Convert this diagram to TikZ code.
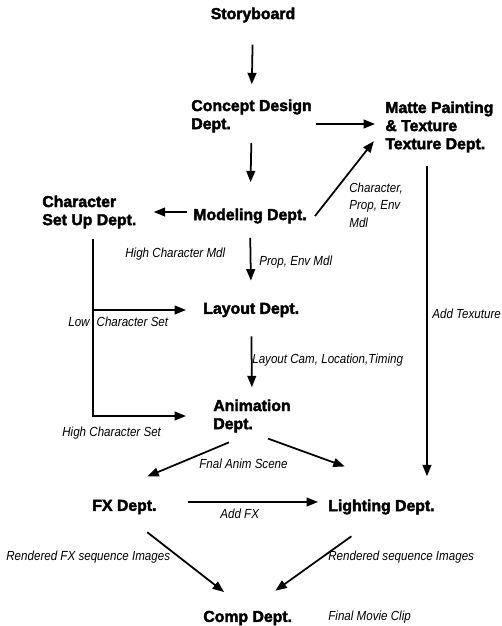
\documentclass[tikz,border=0pt]{standalone}
\usepackage{fontspec}
\setmainfont{Liberation Sans}
\newfontfamily\deptfont{Liberation Sans}[BoldFeatures={FakeBold=2.5}]
\newfontfamily\notefont{Liberation Sans}[FakeStretch=0.88]
\usetikzlibrary{arrows.meta}

\begin{document}
\begin{tikzpicture}[
				x=0.02cm, y=-0.02cm,
				dept/.style={inner sep=0pt, anchor=west, align=left, font=\deptfont\bfseries\fontsize{9}{10.3}\selectfont},
				note/.style={inner sep=0pt, anchor=west, align=left, font=\notefont\itshape\fontsize{7.5}{10}\selectfont},
				arrow/.style={-{Triangle[length=6.5pt,width=5pt]}, line width=1pt}
				]
				
				% Page frame
				\useasboundingbox (0,0) rectangle (502,626);
				
				% Departments
				\node[dept, anchor=center] (story) at (253,15) {Storyboard};
				\node[dept] (concept) at (191,116) {Concept Design\\Dept.};
				\node[dept] (matte) at (385,127) {Matte Painting\\\& Texture\\Texture Dept.};
				\node[dept] (model) at (193,216) {Modeling Dept.};
				\node[dept] (charset) at (42,212) {Character\\Set Up Dept.};
				\node[dept] (layout) at (203,310) {Layout Dept.};
				\node[dept] (anim) at (213,416) {Animation\\Dept.};
				\node[dept] (fx) at (92,507) {FX Dept.};
				\node[dept] (light) at (328,507) {Lighting Dept.};
				\node[dept] (comp) at (203,618) {Comp Dept.};
				
				% Labels
				\node[note] (cpemdl) at (349,205) {Character,\\Prop, Env\\Mdl};
				\node[note] (addtex) at (432,314) {Add Texuture};
				\node[note] (highmdl) at (125,254) {High Character Mdl};
				\node[note] (pemdl) at (259,262) {Prop, Env Mdl};
				\node[note] (lowset) at (68,322) {Low\hspace{4pt}Character Set};
				\node[note] (layoutcam) at (252,360) {Layout Cam, Location,Timing};
				\node[note] (highset) at (62,433) {High Character Set};
				\node[note] (finalanim) at (199,464) {Fnal Anim Scene};
				\node[note] (addfx) at (220,514) {Add FX};
				\node[note] (renderfx) at (6,557) {Rendered FX sequence Images};
				\node[note] (renderseq) at (328,557) {Rendered sequence Images};
				\node[note] (movieclip) at (328,617) {Final Movie Clip};
				
				% Top of the pipeline
				\draw[arrow, shorten <=0.44cm, shorten >=0.3cm] (story.south) -- (concept.north);
				\draw[arrow, shorten <=0.08cm, shorten >=0.2cm] ([yshift=0.06cm]concept.east |- matte.west) -- ([yshift=0.06cm]matte.west);
				\draw[arrow, shorten <=0.2cm, shorten >=0.52cm] (concept.south) -- (model.north);
				\draw[arrow, shorten <=0.12cm, shorten >=0.34cm] (charset.east -| model.west) -- (charset.east);
				\draw[arrow, shorten >=0.36cm] ([xshift=0.16cm]model.east) -- (matte.west);
				
				% Texture down to lighting
				\draw[arrow, shorten <=0.26cm, shorten >=0.46cm] ([xshift=-0.16cm]light.north east |- matte.south) -- ([xshift=-0.16cm]light.north east);
				
				% Character set up branches
				\draw[arrow, shorten <=0.2cm, shorten >=0.34cm] ([xshift=0.08cm]charset.south) |- (layout.west);
				\draw[arrow, shorten <=0.2cm, shorten >=0.54cm] ([xshift=0.08cm]charset.south) |- (anim.west);
				
				% Middle of the pipeline
				\draw[arrow, shorten <=0.28cm, shorten >=0.44cm] (model.south) -- (layout.north);
				\draw[arrow, shorten <=0.38cm, shorten >=0.24cm] (layout.south) -- (anim.north);
				\draw[arrow, shorten <=0.5cm, shorten >=1.2cm] (anim.south) -- (fx.north west);
				\draw[arrow, shorten <=0.34cm, shorten >=1.92cm] (anim.south) -- (light.north east);
				\draw[arrow, shorten <=0.62cm, shorten >=0.2cm] ([yshift=0.1cm]fx.east) -- ([yshift=0.1cm]light.west);
				
				% Compositing
				\draw[arrow, shorten <=0.58cm, shorten >=0.6cm] (fx.south) -- (comp.north);
				\draw[arrow, shorten <=0.74cm, shorten >=0.68cm] (light.south) -- (comp.north);
				
			\end{tikzpicture}
\end{document}
